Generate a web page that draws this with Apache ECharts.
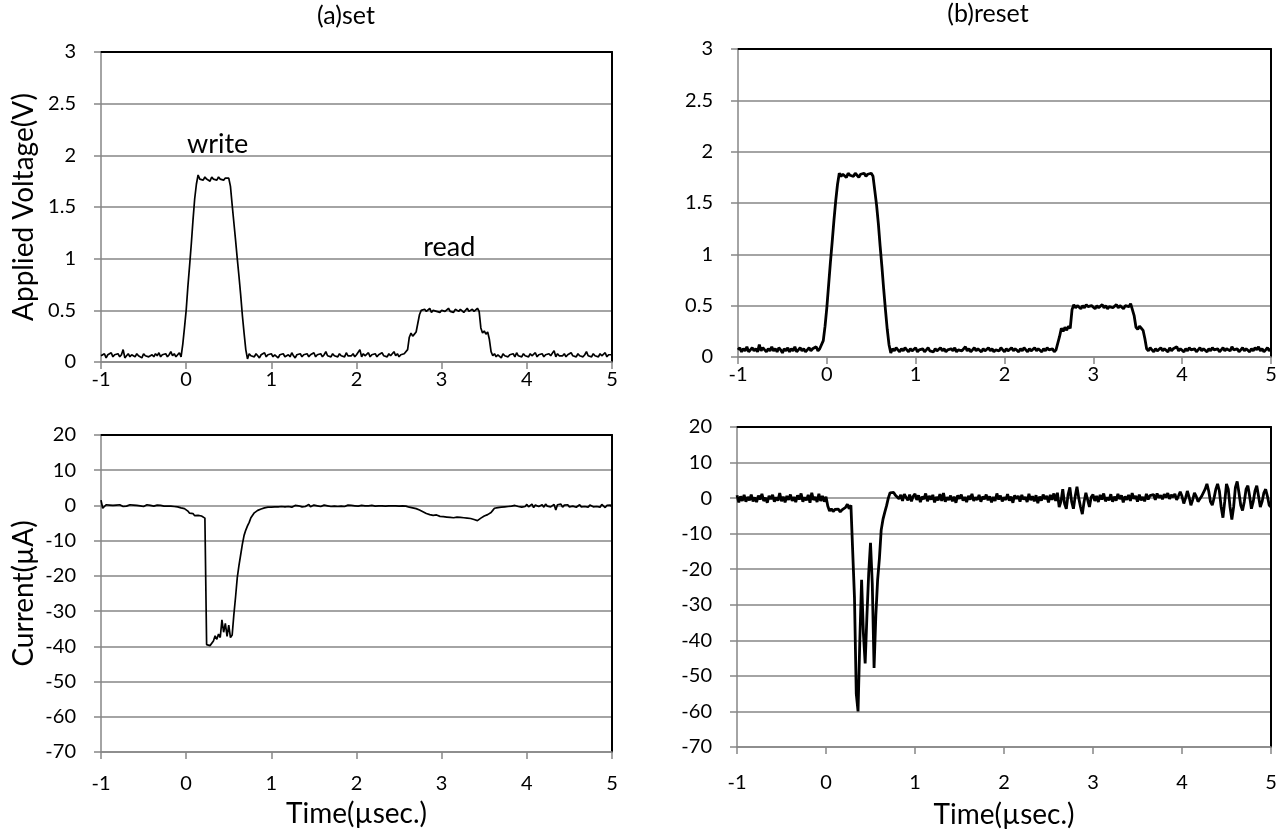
<!DOCTYPE html>
<html>
<head>
<meta charset="utf-8">
<script src="https://cdn.jsdelivr.net/npm/echarts@6/dist/echarts.min.js"></script>
<style>
html,body{margin:0;padding:0;background:#ffffff;}
#chart{width:1285px;height:834px;}
</style>
</head>
<body>
<div id="chart"></div>
<script>
// ---- sampling grid of the oscilloscope traces (µs) ----
const timeStart = -1;
const timeStep = 0.02;

// ---- axis definitions ----
const timeTicks = { min: -1, max: 5, interval: 1 };
const voltageTicks = { min: 0, max: 3, interval: 0.5 };
const currentTicks = { min: -70, max: 20, interval: 10 };

// ---- panel titles / axis names ----
const panelTitles = ['(a)set', '(b)reset'];
const voltageAxisName = 'Applied Voltage(V)';
const currentAxisName = 'Current(µA)';
const timeAxisName = 'Time(µsec.)';

// ---- annotations in panel (a) voltage: [label, time, voltage] ----
const annotations = [['write', 0.37, 2.11], ['read', 3.09, 1.11]];

// ---- (a) set : applied voltage (V), one value every 0.02 µs from -1 to 5 ----
const setVoltage = [
0.06,0.05,0.08,0.04,0.07,0.06,0.09,0.05,0.07,0.06,
0.08,0.05,0.07,0.12,0.04,0.06,0.08,0.05,0.07,0.06,
0.05,0.08,0.06,0.07,0.04,0.08,0.06,0.07,0.05,0.06,
0.07,0.05,0.08,0.06,0.09,0.05,0.07,0.06,0.08,0.05,
0.07,0.10,0.06,0.08,0.05,0.07,0.09,0.05,0.17,0.33,
0.50,0.73,0.93,1.14,1.37,1.58,1.72,1.81,1.77,1.78,
1.76,1.79,1.77,1.78,1.75,1.79,1.77,1.78,1.76,1.79,
1.77,1.78,1.76,1.78,1.79,1.78,1.70,1.52,1.35,1.18,
1.00,0.83,0.65,0.45,0.28,0.12,0.03,0.08,0.06,0.07,
0.05,0.08,0.06,0.04,0.07,0.06,0.09,0.05,0.07,0.06,
0.08,0.05,0.07,0.06,0.04,0.07,0.06,0.08,0.05,0.06,
0.07,0.05,0.09,0.06,0.04,0.07,0.06,0.08,0.05,0.07,
0.06,0.08,0.05,0.07,0.06,0.09,0.05,0.07,0.06,0.08,
0.05,0.07,0.10,0.06,0.07,0.05,0.08,0.06,0.07,0.05,
0.08,0.06,0.07,0.05,0.09,0.06,0.07,0.06,0.08,0.05,
0.07,0.06,0.12,0.05,0.08,0.06,0.07,0.09,0.05,0.07,
0.06,0.08,0.05,0.07,0.06,0.09,0.06,0.07,0.05,0.08,
0.06,0.07,0.10,0.06,0.08,0.05,0.07,0.06,0.08,0.07,
0.12,0.24,0.28,0.25,0.27,0.29,0.30,0.46,0.50,0.49,
0.51,0.49,0.50,0.52,0.48,0.50,0.51,0.49,0.50,0.48,
0.50,0.51,0.49,0.50,0.52,0.49,0.50,0.48,0.51,0.50,
0.49,0.51,0.50,0.48,0.50,0.52,0.49,0.50,0.51,0.49,
0.50,0.52,0.49,0.33,0.28,0.30,0.27,0.29,0.22,0.10,
0.06,0.08,0.05,0.07,0.06,0.04,0.08,0.06,0.07,0.05,
0.07,0.06,0.08,0.05,0.09,0.06,0.07,0.05,0.08,0.06,
0.07,0.05,0.08,0.06,0.07,0.09,0.05,0.07,0.06,0.08,
0.05,0.07,0.06,0.08,0.06,0.07,0.11,0.05,0.08,0.06,
0.07,0.06,0.08,0.05,0.07,0.06,0.09,0.06,0.07,0.05,
0.08,0.06,0.07,0.05,0.07,0.10,0.06,0.07,0.05,0.08,
0.06,0.07,0.05,0.08,0.06,0.07,0.09,0.05,0.07,0.06,
0.07
];

// ---- (b) reset : applied voltage (V) ----
const resetVoltage = [
0.07,0.09,0.05,0.08,0.06,0.10,0.05,0.07,0.09,0.06,
0.08,0.05,0.12,0.06,0.09,0.07,0.05,0.08,0.06,0.10,
0.06,0.08,0.05,0.09,0.07,0.04,0.08,0.06,0.09,0.05,
0.08,0.06,0.10,0.05,0.07,0.09,0.06,0.08,0.05,0.07,
0.09,0.06,0.08,0.07,0.10,0.06,0.08,0.09,0.16,0.30,
0.48,0.70,0.92,1.12,1.33,1.52,1.68,1.79,1.76,1.78,
1.78,1.75,1.79,1.77,1.78,1.76,1.79,1.77,1.75,1.78,
1.77,1.79,1.76,1.78,1.77,1.79,1.76,1.62,1.48,1.30,
1.08,0.88,0.66,0.46,0.27,0.12,0.04,0.08,0.06,0.09,
0.07,0.05,0.08,0.06,0.09,0.07,0.05,0.08,0.06,0.07,
0.09,0.05,0.07,0.06,0.08,0.05,0.07,0.09,0.06,0.07,
0.05,0.08,0.06,0.07,0.09,0.06,0.08,0.05,0.07,0.06,
0.08,0.06,0.09,0.05,0.07,0.08,0.06,0.07,0.10,0.06,
0.08,0.05,0.07,0.09,0.06,0.08,0.07,0.05,0.08,0.06,
0.07,0.09,0.06,0.08,0.05,0.07,0.08,0.06,0.09,0.07,
0.05,0.08,0.06,0.07,0.09,0.06,0.08,0.07,0.05,0.08,
0.06,0.09,0.07,0.05,0.08,0.06,0.07,0.09,0.06,0.08,
0.07,0.05,0.08,0.06,0.09,0.07,0.06,0.08,0.05,0.07,
0.08,0.20,0.28,0.25,0.29,0.26,0.30,0.28,0.46,0.51,
0.48,0.50,0.49,0.47,0.50,0.48,0.51,0.49,0.48,0.50,
0.49,0.47,0.50,0.48,0.49,0.51,0.48,0.50,0.47,0.49,
0.50,0.48,0.49,0.51,0.48,0.50,0.49,0.47,0.50,0.51,
0.49,0.52,0.53,0.40,0.29,0.27,0.30,0.28,0.26,0.18,
0.08,0.06,0.09,0.07,0.05,0.08,0.06,0.07,0.09,0.06,
0.08,0.07,0.05,0.09,0.06,0.08,0.07,0.10,0.06,0.08,
0.07,0.05,0.08,0.06,0.09,0.07,0.06,0.08,0.05,0.07,
0.09,0.06,0.08,0.07,0.05,0.08,0.06,0.09,0.07,0.06,
0.08,0.05,0.07,0.09,0.06,0.08,0.07,0.06,0.10,0.07,
0.06,0.08,0.05,0.07,0.09,0.06,0.08,0.07,0.05,0.08,
0.06,0.09,0.07,0.10,0.06,0.08,0.05,0.07,0.09,0.06,
0.08
];

// ---- (a) set : current (µA) ----
const setCurrent = [
1.5,-0.8,-0.3,0.2,-0.2,0.1,-0.4,0.0,-0.3,0.1,
-0.2,0.2,-0.1,-0.3,0.1,-0.2,0.0,0.2,-0.1,0.1,
-0.2,0.0,0.3,-0.1,0.1,-0.3,0.0,0.2,-0.1,0.0,
0.1,-0.2,0.0,0.1,-0.1,0.0,0.1,-0.2,-0.1,-0.2,
-0.3,-0.2,-0.4,-0.3,-0.5,-0.4,-0.6,-0.7,-0.8,-0.9,
-1.2,-1.6,-2.2,-2.5,-2.3,-2.9,-3.2,-2.8,-3.3,-3.0,
-3.3,-3.6,-39.5,-40.0,-39.8,-39.5,-38.5,-37.0,-38.0,-36.5,
-37.5,-32.5,-36.0,-33.5,-37.2,-34.0,-37.5,-36.8,-31.0,-26.0,
-20.5,-17.0,-14.0,-11.0,-8.5,-7.0,-5.8,-4.8,-3.5,-2.8,
-2.1,-1.7,-1.4,-1.2,-1.0,-0.9,-0.7,-0.6,-0.5,-0.4,
-0.5,-0.3,-0.4,-0.2,-0.4,-0.1,-0.3,-0.2,-0.4,-0.2,
-0.3,0.1,-0.5,-0.2,0.0,-0.3,-0.1,0.4,-0.4,-0.1,
-0.3,0.0,0.3,-0.4,-0.2,0.1,-0.3,-0.1,0.0,-0.3,
-0.2,0.1,-0.4,-0.1,0.0,-0.3,0.2,-0.2,0.3,-0.3,
-0.1,-0.2,0.0,-0.3,-0.1,0.1,-0.2,0.0,-0.2,-0.1,
0.0,-0.2,-0.1,0.0,-0.2,-0.1,0.0,-0.1,-0.2,0.0,
-0.1,-0.2,0.0,-0.1,-0.2,-0.1,0.0,-0.2,-0.1,-0.1,
0.0,-0.1,-0.2,-0.1,0.0,-0.2,-0.1,-0.1,-0.3,-0.2,
-0.4,-0.5,-0.4,-0.7,-0.8,-0.9,-1.1,-1.3,-1.6,-1.8,
-2.0,-2.3,-2.4,-2.6,-2.5,-2.8,-2.9,-2.7,-3.0,-3.1,
-3.0,-3.2,-3.1,-3.3,-3.2,-3.4,-3.3,-3.5,-3.4,-3.3,
-3.5,-3.4,-3.6,-3.5,-3.7,-3.6,-3.8,-3.7,-3.9,-4.0,
-4.1,-4.3,-4.0,-3.6,-3.2,-3.0,-2.9,-2.6,-2.4,-2.0,
-1.4,-0.8,-0.9,-0.6,-0.8,-0.5,-0.7,-0.4,-0.6,-0.3,
-0.5,-0.2,-0.6,0.0,-0.4,-0.3,0.2,-0.5,0.0,-0.3,
0.3,-0.4,-0.1,0.4,-0.6,0.1,0.5,-0.3,-0.1,0.2,
-0.5,0.4,-0.2,0.1,-0.4,-0.2,0.3,-1.3,0.2,-0.3,
0.4,-0.5,0.1,-0.3,0.2,-0.4,0.0,-0.2,0.1,-0.5,
-0.1,0.2,-0.4,0.0,-0.3,0.2,-0.5,0.1,-0.2,-0.4,
0.1,-0.3,0.0,-0.5,0.3,-0.2,-0.6,0.0,-0.3,0.1,
-0.4
];

// ---- (b) reset : current (µA) ----
const resetCurrent = [
0.8,-1.2,0.5,-0.8,0.9,-1.0,0.3,-0.6,1.0,-0.9,
0.2,-1.1,0.7,-0.4,1.2,-0.8,0.1,-1.3,0.6,-0.3,
0.9,-1.0,0.2,-0.7,1.4,-0.9,0.4,-1.2,0.6,-0.5,
1.0,-0.8,0.3,-1.1,0.8,-0.4,1.3,-1.0,0.2,-0.6,
0.9,-1.3,1.5,-0.5,0.3,-1.1,1.2,-0.8,0.6,-1.0,
0.4,-2.2,-3.6,-3.0,-3.8,-3.2,-3.7,-3.1,-3.9,-3.3,
-3.5,-2.6,-1.7,-3.0,-2.0,-1.6,-28.0,-55.0,-60.0,-40.0,
-23.0,-38.0,-46.5,-33.0,-21.0,-12.6,-24.0,-47.8,-33.0,-23.0,
-17.0,-9.0,-6.0,-4.0,-2.2,0.0,1.5,1.2,1.6,0.8,
1.3,-0.2,0.9,-0.8,1.1,0.2,-0.6,1.0,-0.9,0.5,
1.2,-0.5,0.8,-1.1,0.4,-0.3,1.3,-0.9,0.6,-0.4,
0.9,-1.2,0.3,-0.6,1.1,-0.8,1.4,-1.0,0.2,-0.5,
0.7,-0.9,0.4,-1.3,0.8,-0.2,1.0,-0.7,0.3,-1.1,
0.6,-0.4,1.2,-0.8,0.2,-0.5,0.9,-1.0,0.4,-0.3,
1.0,-0.6,0.5,-1.2,0.3,-0.8,1.3,-0.4,0.7,-0.9,
0.2,-0.5,1.1,-0.7,0.4,-1.3,0.8,-0.2,0.6,-1.0,
0.9,-0.4,0.3,-1.1,1.2,-0.6,0.5,-0.9,0.8,-1.4,
0.4,-0.7,1.0,-0.3,0.6,-1.2,0.9,-0.5,1.3,-0.8,
1.5,-2.5,-1.0,2.5,-1.5,-3.0,1.0,3.0,-1.0,-3.0,
0.5,3.2,0.0,-2.5,-4.5,-1.0,1.5,-0.5,-2.5,0.3,
1.0,-0.8,0.6,-1.1,0.9,-0.4,1.3,-0.9,0.2,-0.6,
1.1,-1.0,0.4,-0.7,1.2,-0.3,0.8,-1.2,0.5,-0.5,
0.9,-0.8,1.4,-0.2,0.6,-1.0,1.0,-0.6,0.3,-0.9,
1.2,-0.4,0.7,0.2,1.0,-0.5,1.3,0.1,0.8,-0.3,
1.1,0.2,1.4,-0.2,0.9,0.3,1.2,-0.5,0.6,1.8,
0.5,-1.5,0.0,2.0,0.3,-2.0,-0.5,1.5,0.5,-1.0,
-0.8,0.5,1.0,2.5,4.0,2.0,-1.0,-2.0,0.0,2.5,
4.0,2.0,-2.5,-5.5,-1.0,4.0,2.5,-2.5,-6.0,-2.5,
3.0,4.7,1.5,-2.0,-3.5,-1.0,2.5,3.5,0.5,-3.0,
-1.0,2.0,3.5,0.5,-2.5,-1.0,1.5,2.5,0.5,-2.0,
-2.5
];

// ---------------------------------------------------------------
const FONT = 'Lato';
const GRID_GRAY = '#868686';
const TICK_SIZE = 20;
const NAME_SIZE = 28;

function traceData(values) {
  return values.map((v, i) => [Number((timeStart + i * timeStep).toFixed(2)), v]);
}

const grids = [
  { left: 101, top: 52, width: 511, height: 310 },   // (a) voltage
  { left: 101, top: 435, width: 511, height: 317 },  // (a) current
  { left: 738, top: 49, width: 533, height: 308 },   // (b) voltage
  { left: 737, top: 427, width: 534, height: 320 }   // (b) current
];

const xAxes = [];
const yAxes = [];

function addAxes(gi, yTicks, labelMargin, xName, xNameGap, yName, yNameGap) {
  xAxes.push({
    type: 'value', gridIndex: gi, position: 'bottom',
    min: timeTicks.min, max: timeTicks.max, interval: timeTicks.interval,
    axisLine: { show: true, onZero: false, lineStyle: { color: GRID_GRAY, width: 1.5 } },
    axisTick: { show: true, inside: false, length: 7, lineStyle: { color: GRID_GRAY, width: 1.5 } },
    axisLabel: { show: true, margin: labelMargin, color: '#000', fontFamily: FONT, fontSize: TICK_SIZE,
                 showMinLabel: true, showMaxLabel: true },
    splitLine: { show: false },
    name: xName || '', nameLocation: 'middle', nameGap: xNameGap || 0,
    nameTextStyle: { color: '#000', fontFamily: FONT, fontSize: NAME_SIZE }
  });
  xAxes.push({
    type: 'value', gridIndex: gi, position: 'top',
    min: timeTicks.min, max: timeTicks.max, interval: timeTicks.interval,
    axisLine: { show: true, onZero: false, lineStyle: { color: '#000', width: 2 } },
    axisTick: { show: false }, axisLabel: { show: false }, splitLine: { show: false }
  });
  yAxes.push({
    type: 'value', gridIndex: gi, position: 'left',
    min: yTicks.min, max: yTicks.max, interval: yTicks.interval,
    axisLine: { show: true, onZero: false, lineStyle: { color: GRID_GRAY, width: 1.5 } },
    axisTick: { show: true, inside: false, length: 7, lineStyle: { color: GRID_GRAY, width: 1.5 } },
    axisLabel: { show: true, margin: 25, color: '#000', fontFamily: FONT, fontSize: TICK_SIZE,
                 showMinLabel: true, showMaxLabel: true },
    splitLine: { show: true, lineStyle: { color: GRID_GRAY, width: 1.5 } },
    name: yName || '', nameLocation: 'middle', nameGap: yNameGap || 0,
    nameTextStyle: { color: '#000', fontFamily: FONT, fontSize: NAME_SIZE }
  });
  yAxes.push({
    type: 'value', gridIndex: gi, position: 'right',
    min: yTicks.min, max: yTicks.max, interval: yTicks.interval,
    axisLine: { show: true, onZero: false, lineStyle: { color: '#000', width: 2 } },
    axisTick: { show: false }, axisLabel: { show: false }, splitLine: { show: false }
  });
}

addAxes(0, voltageTicks, 8, '', 0, voltageAxisName, 63);
addAxes(1, currentTicks, 22, timeAxisName, 48, currentAxisName, 63);
addAxes(2, voltageTicks, 8, '', 0, '', 0);
addAxes(3, currentTicks, 26, timeAxisName, 54, '', 0);

function traceSeries(gi, values, width, extra) {
  return Object.assign({
    type: 'line', xAxisIndex: gi * 2, yAxisIndex: gi * 2,
    data: traceData(values), showSymbol: false, symbol: 'none',
    lineStyle: { color: '#000', width: width }, itemStyle: { color: '#000' },
    animation: false, silent: true, clip: true
  }, extra || {});
}

const titleText = { color: '#000', fontFamily: FONT, fontSize: 25, fontWeight: 'normal' };

const option = {
  backgroundColor: '#ffffff',
  animation: false,
  title: [
    { text: panelTitles[0], left: 346, top: 3, textAlign: 'center', padding: 0, textStyle: titleText },
    { text: panelTitles[1], left: 988, top: 1, textAlign: 'center', padding: 0, textStyle: titleText }
  ],
  grid: grids,
  xAxis: xAxes,
  yAxis: yAxes,
  series: [
    traceSeries(0, setVoltage, 1.7, {
      markPoint: {
        symbol: 'circle', symbolSize: 1, silent: true,
        itemStyle: { color: 'rgba(0,0,0,0)' },
        label: { show: true, position: 'inside', color: '#000', fontFamily: FONT, fontSize: 27, formatter: p => p.name },
        data: annotations.map(a => ({ name: a[0], coord: [a[1], a[2]] }))
      }
    }),
    traceSeries(1, setCurrent, 1.7),
    traceSeries(2, resetVoltage, 2.8),
    traceSeries(3, resetCurrent, 2.8)
  ]
};

const chart = echarts.init(document.getElementById('chart'), null, { renderer: 'canvas' });
chart.setOption(option);
</script>
</body>
</html>
